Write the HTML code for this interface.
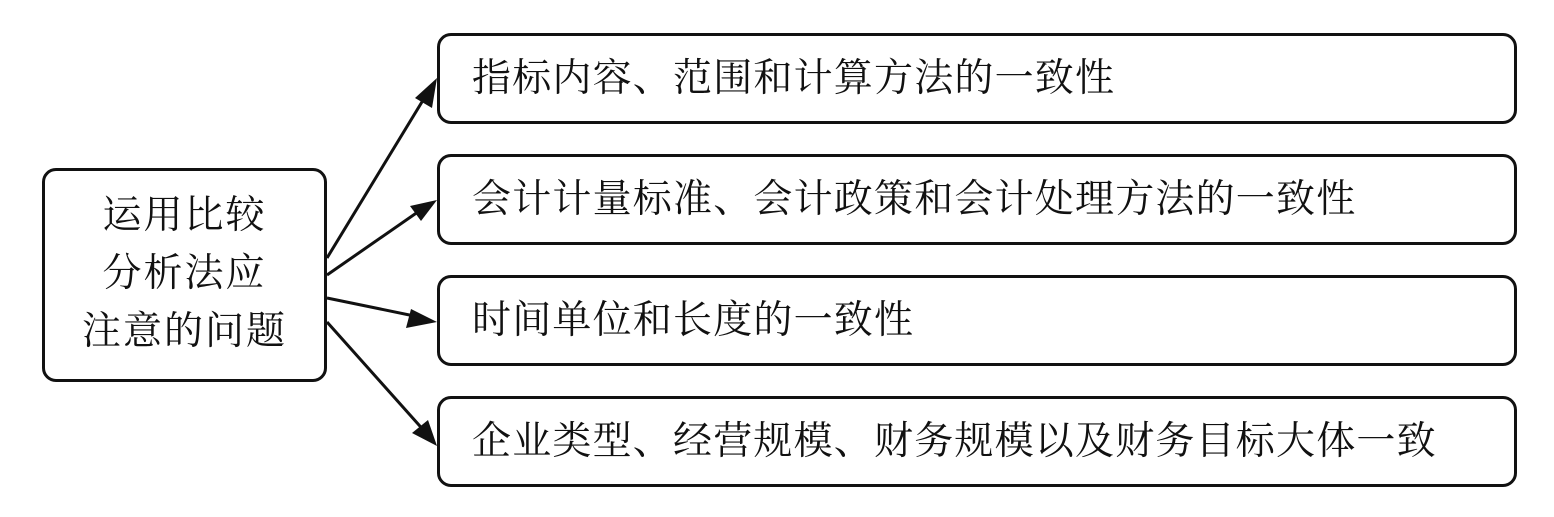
<!DOCTYPE html>
<html><head><meta charset="utf-8"><style>
body{margin:0;width:1554px;height:517px;background:#fff;position:relative;overflow:hidden;font-family:"Liberation Serif","Noto Serif CJK SC",serif;color:#111}
.b{position:absolute;border:3px solid #111;border-radius:14px;box-sizing:border-box;background:#fff}
.r{left:437px;width:1080px;height:91px;font-size:39px;line-height:85px;padding-left:32px;letter-spacing:1.2px}
.l{left:42px;top:168px;width:285px;height:214px;font-size:39px;line-height:58px;text-align:center;padding-top:16px;letter-spacing:2px}
svg{position:absolute;left:0;top:0}
</style></head><body>
<svg width="1554" height="517"><g stroke="#111" stroke-width="3">
<line x1="327" y1="258" x2="428" y2="92"/>
<line x1="327" y1="275" x2="425" y2="207"/>
<line x1="327" y1="298" x2="424" y2="318"/>
<line x1="327" y1="322" x2="427" y2="434"/>
</g><g fill="#111">
<polygon points="437,78 415,98 432,108"/>
<polygon points="437,200 410,206 421,221"/>
<polygon points="437,322 411,309 406,328"/>
<polygon points="437,446 428,420 412,433"/>
</g></svg>
<div class="b l">运用比较<br>分析法应<br>注意的问题</div>
<div class="b r" style="top:33px">指标内容、范围和计算方法的一致性</div>
<div class="b r" style="top:154px">会计计量标准、会计政策和会计处理方法的一致性</div>
<div class="b r" style="top:275px">时间单位和长度的一致性</div>
<div class="b r" style="top:396px">企业类型、经营规模、财务规模以及财务目标大体一致</div>
</body></html>
